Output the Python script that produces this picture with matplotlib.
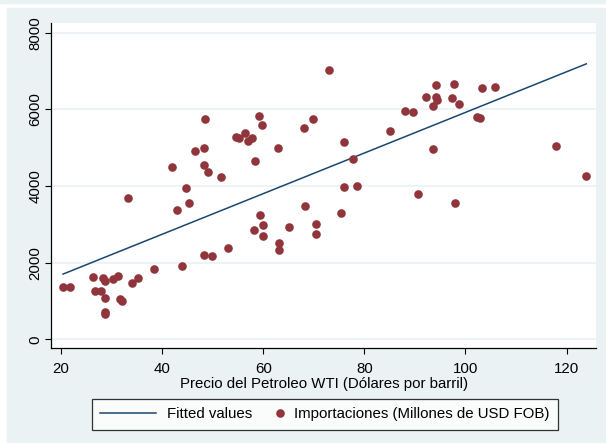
import numpy as np
import matplotlib
matplotlib.use("Agg")
import matplotlib.pyplot as plt
from matplotlib.patches import Rectangle
from matplotlib.legend_handler import HandlerLine2D

plt.rcParams['font.family'] = ['Liberation Sans', 'DejaVu Sans']

# WTI price (USD/barrel) and imports (million USD FOB)
precio = [20.4, 21.7, 26.3, 26.7, 28.0, 28.3, 28.7, 28.8, 28.8, 28.8,
          30.2, 31.2, 31.6, 32.0, 33.2, 34.1, 35.2, 38.3, 41.9, 42.9,
          43.9, 44.8, 45.4, 46.5, 48.2, 48.2, 48.2, 48.5, 49.1, 49.8,
          51.7, 53.0, 54.7, 55.3, 56.3, 56.9, 57.8, 58.1, 58.4, 59.1,
          59.4, 59.8, 60.0, 60.0, 62.9, 63.2, 63.1, 65.0, 68.0, 68.2,
          69.8, 70.4, 70.4, 73.1, 75.4, 76.0, 76.0, 77.8, 78.6, 85.1,
          88.0, 89.7, 90.7, 92.2, 93.5, 93.6, 94.1, 94.1, 94.4, 97.3,
          97.8, 98.0, 98.7, 102.2, 102.9, 103.3, 105.9, 118.0, 123.9]
importaciones = [1374, 1357, 1635, 1261, 1255, 1591, 1530, 1080, 720, 660,
                 1573, 1652, 1040, 1000, 3690, 1478, 1608, 1826, 4496, 3374,
                 1912, 3956, 3550, 4905, 4983, 4557, 2191, 5757, 4365, 2174,
                 4244, 2370, 5287, 5252, 5391, 5183, 5252, 2861, 4661, 5826,
                 3235, 5600, 2983, 2687, 5000, 2522, 2339, 2939, 5504, 3487,
                 5748, 3017, 2739, 7018, 3296, 5139, 3974, 4705, 4009, 5444,
                 5965, 5922, 3791, 6322, 6087, 4974, 6626, 6322, 6252, 6305,
                 6670, 3565, 6148, 5809, 5774, 6557, 6574, 5044, 4270]

x = np.array(precio)
y = np.array(importaciones)
b, a = np.polyfit(x, y, 1)
xf = np.array([x.min(), x.max()])
yf = a + b * xf


# legend marker sits at the right end of its handle box (Stata style)
class MarkerRight(HandlerLine2D):
    def get_xdata(self, legend, xdescent, ydescent, width, height, fontsize):
        m = width - xdescent - 3
        return [m, m], [m]


bg = '#eaf2f3'
fs = 10.8
fig = plt.figure(figsize=(6.06, 4.43), dpi=100, facecolor='white')
fig.patches.append(Rectangle((7 / 606, 0), 1, (443 - 8) / 443,
                             transform=fig.transFigure, color=bg, zorder=-10))
fig.patches.append(Rectangle((0, (443 - 3) / 443), 1, 3 / 443,
                             transform=fig.transFigure, color=bg, zorder=-10))

ax = fig.add_axes([0.0848, 0.2138, 0.8994, 0.735])
ax.set_facecolor('white')

ax.plot(xf, yf, color='#1a476f', lw=1.1, label='Fitted values', zorder=2)
pts, = ax.plot(x, y, 'o', color='#90353b', ms=6.2, mec='none',
               label='Importaciones (Millones de USD FOB)', zorder=3)

ax.set_xlim(18.1, 125.9)
ax.set_ylim(-235, 8260)
ax.set_xticks([20, 40, 60, 80, 100, 120])
ax.set_yticks([0, 2000, 4000, 6000, 8000])
ax.grid(axis='y', color=bg, lw=1.2)
ax.set_axisbelow(True)

for s in ['top', 'right']:
    ax.spines[s].set_visible(False)
for s in ['left', 'bottom']:
    ax.spines[s].set_color('black')
    ax.spines[s].set_linewidth(0.9)

ax.tick_params(axis='both', direction='out', length=4.5, width=0.8,
               labelsize=fs, colors='black')
ax.tick_params(axis='x', pad=5.5)
ax.tick_params(axis='y', pad=2)
plt.setp(ax.get_yticklabels(), rotation=90, va='center')

ax.set_xlabel('Precio del Petroleo WTI (Dólares por barril)', fontsize=fs,
              labelpad=0.5)

leg = ax.legend(loc='upper center', bbox_to_anchor=(0.502, -0.133), ncol=2,
                fontsize=fs, frameon=True, fancybox=False, edgecolor='black',
                handlelength=3.75, columnspacing=-1.65, borderpad=0.55,
                handletextpad=0.7, handler_map={pts: MarkerRight()})
leg.get_frame().set_linewidth(0.9)
leg.get_frame().set_facecolor('white')

fig.savefig('out.png', dpi=100, facecolor=fig.get_facecolor())
